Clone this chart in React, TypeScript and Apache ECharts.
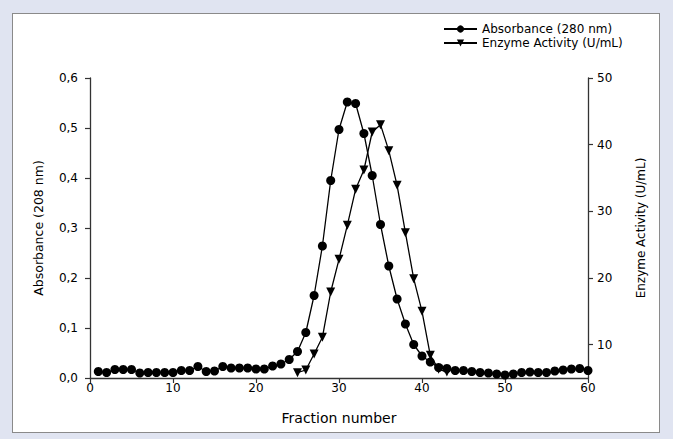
import React, { useEffect, useRef } from "react";
import * as echarts from "echarts";

const fractions: number[] = Array.from({ length: 60 }, (_, i) => i + 1);
const absorbance: number[] = [
  0.013, 0.011, 0.017, 0.017, 0.017, 0.010, 0.011, 0.011, 0.011, 0.011,
  0.015, 0.015, 0.023, 0.013, 0.014, 0.023, 0.020, 0.020, 0.020, 0.018,
  0.018, 0.024, 0.028, 0.037, 0.053, 0.091, 0.165, 0.264, 0.395, 0.497,
  0.552, 0.549, 0.489, 0.405, 0.307, 0.224, 0.158, 0.108, 0.067, 0.044,
  0.032, 0.021, 0.019, 0.015, 0.015, 0.013, 0.011, 0.010, 0.008, 0.006,
  0.008, 0.011, 0.012, 0.011, 0.011, 0.014, 0.016, 0.018, 0.019, 0.015,
];
const enzymeFractions: number[] = [25, 26, 27, 28, 29, 30, 31, 32, 33, 34, 35, 36, 37, 38, 39, 40, 41, 42, 43];
const enzymeActivity: number[] = [5.8, 6.2, 8.6, 11.1, 17.9, 22.8, 27.9, 33.3, 36.2, 41.9, 43.0, 39.1, 33.9, 26.8, 19.9, 15.0, 8.4, 6.3, 5.9];
const rightTicks: number[] = [10, 20, 30, 40, 50];

const FONT = "'DejaVu Sans', Arial, sans-serif";
const AXIS_COLOR = "#333";

export default function App() {
  const ref = useRef<HTMLDivElement>(null);
  useEffect(() => {
    if (!ref.current) return;
    const chart = echarts.init(ref.current, undefined, { renderer: "svg" });
    const axisCommon = {
      axisLine: { show: true, lineStyle: { color: AXIS_COLOR, width: 1.3 } },
      axisTick: { show: true, length: 5, lineStyle: { color: AXIS_COLOR, width: 1.2 } },
      splitLine: { show: false },
    };
    chart.setOption({
      animation: false,
      textStyle: { fontFamily: FONT },
      legend: {
        orient: "vertical",
        left: 438,
        top: 18,
        itemWidth: 33,
        itemHeight: 9,
        itemGap: 2,
        textStyle: { fontFamily: FONT, fontSize: 12, color: "#000" },
        data: ["Absorbance (280 nm)", "Enzyme Activity (U/mL)"],
      },
      grid: { left: 90, right: 85, top: 78, bottom: 61, containLabel: false },
      xAxis: {
        type: "value",
        min: 0,
        max: 60,
        interval: 10,
        name: "Fraction number",
        nameLocation: "middle",
        nameGap: 33,
        nameTextStyle: { fontFamily: FONT, fontSize: 14, color: "#000" },
        axisLabel: { color: "#000", fontSize: 12, fontFamily: FONT, margin: 4 },
        ...axisCommon,
      },
      yAxis: [
        {
          type: "value",
          min: 0,
          max: 0.6,
          interval: 0.1,
          position: "left",
          name: "Absorbance (208 nm)",
          nameLocation: "middle",
          nameGap: 45,
          nameTextStyle: { fontFamily: FONT, fontSize: 12.5, color: "#000" },
          axisLabel: {
            color: "#000",
            fontSize: 12,
            fontFamily: FONT,
            margin: 12,
            formatter: (v: number) => v.toFixed(1).replace(".", ","),
          },
          ...axisCommon,
        },
        {
          type: "value",
          min: 5,
          max: 50,
          position: "right",
          name: "Enzyme Activity (U/mL)",
          nameLocation: "middle",
          nameGap: 47,
          nameTextStyle: { fontFamily: FONT, fontSize: 12, color: "#000" },
          axisLabel: { color: "#000", fontSize: 12, fontFamily: FONT, margin: 9, customValues: rightTicks },
          axisLine: { show: true, lineStyle: { color: AXIS_COLOR, width: 1.3 } },
          axisTick: { show: true, length: 5, customValues: rightTicks, lineStyle: { color: AXIS_COLOR, width: 1.2 } },
          splitLine: { show: false },
        },
      ],
      series: [
        {
          name: "Absorbance (280 nm)",
          type: "line",
          yAxisIndex: 0,
          data: fractions.map((f, i) => [f, absorbance[i]]),
          symbol: "circle",
          symbolSize: 9,
          itemStyle: { color: "#000" },
          lineStyle: { color: "#000", width: 1.3 },
          z: 3,
        },
        {
          name: "Enzyme Activity (U/mL)",
          type: "line",
          yAxisIndex: 1,
          data: enzymeFractions.map((f, i) => [f, enzymeActivity[i]]),
          symbol: "triangle",
          symbolRotate: 180,
          symbolSize: 9,
          itemStyle: { color: "#000" },
          lineStyle: { color: "#000", width: 1.3 },
          z: 4,
        },
      ],
    });
    return () => chart.dispose();
  }, []);
  return (
    <div style={{ position: "fixed", left: 0, top: 0, width: 673, height: 439, background: "#e0e4f1" }}>
      <div
        style={{
          position: "absolute",
          left: 12,
          top: 13,
          width: 646,
          height: 418,
          background: "#fff",
          border: "1px solid #8a8a8a",
        }}
      />
      <div ref={ref} style={{ position: "absolute", left: 0, top: 0, width: 673, height: 439 }} />
    </div>
  );
}
